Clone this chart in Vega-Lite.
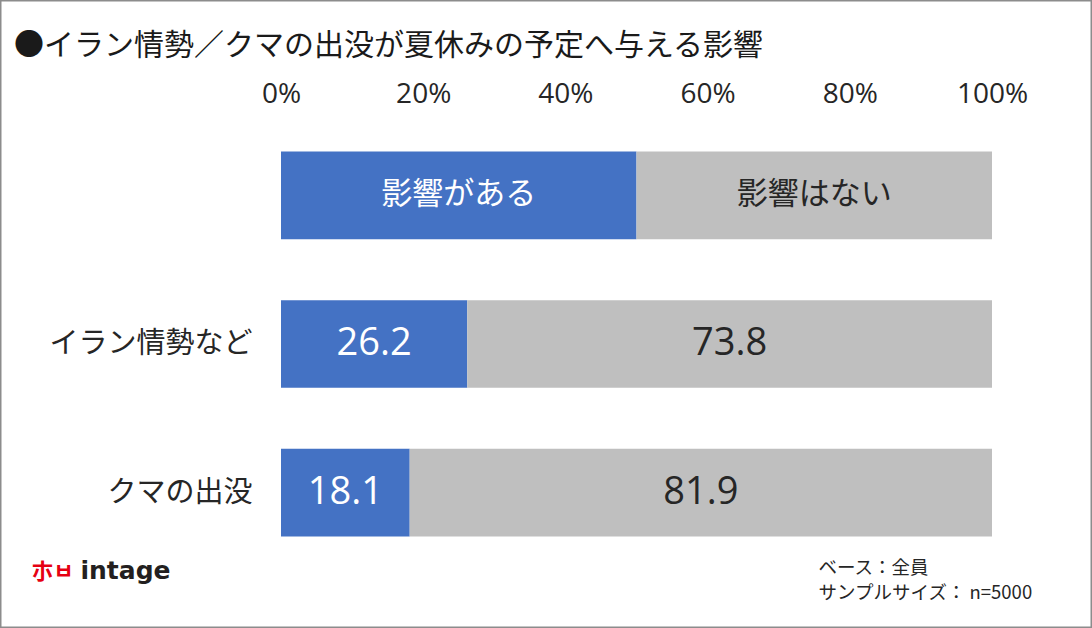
{
  "$schema": "https://vega.github.io/schema/vega-lite/v6.json",
  "width": 1092,
  "height": 628,
  "autosize": {"type": "none"},
  "padding": 0,
  "background": "white",
  "title": {
    "text": "●イラン情勢／クマの出没が夏休みの予定へ与える影響",
    "anchor": "start",
    "frame": "group",
    "offset": -61,
    "dx": 14,
    "font": "Noto Sans CJK JP",
    "fontSize": 30,
    "fontWeight": "normal",
    "color": "#1a1a1a"
  },
  "data": {
    "values": [
      {"item": "", "answer": "影響がある", "value": 50, "label": "影響がある"},
      {"item": "", "answer": "影響はない", "value": 50, "label": "影響はない"},
      {"item": "イラン情勢など", "answer": "影響がある", "value": 26.2, "label": "26.2"},
      {"item": "イラン情勢など", "answer": "影響はない", "value": 73.8, "label": "73.8"},
      {"item": "クマの出没", "answer": "影響がある", "value": 18.1, "label": "18.1"},
      {"item": "クマの出没", "answer": "影響はない", "value": 81.9, "label": "81.9"}
    ]
  },
  "transform": [
    {"stack": "value", "groupby": ["item"], "sort": [{"field": "answer", "order": "ascending"}], "as": ["x0", "x1"]},
    {"calculate": "(datum.x0 + datum.x1) / 2", "as": "mid"}
  ],
  "layer": [
    {
      "mark": {"type": "bar"},
      "encoding": {
        "y": {
          "field": "item",
          "type": "nominal",
          "sort": ["", "イラン情勢など", "クマの出没"],
          "scale": {"range": [121, 567], "paddingInner": 0.41, "paddingOuter": 0.205},
          "axis": {
            "orient": "left",
            "offset": -258,
            "domain": false,
            "ticks": false,
            "tickSize": 0,
            "grid": false,
            "labelPadding": 6,
            "labelLimit": 400,
            "labelFontSize": 29,
            "labelFont": "Noto Sans CJK JP",
            "labelColor": "#262626",
            "title": "intage",
            "titleAngle": 0,
            "titleX": -178,
            "titleY": 570,
            "titleAlign": "left",
            "titleBaseline": "middle",
            "titleFont": "DejaVu Sans",
            "titleFontSize": 25,
            "titleFontWeight": "bold",
            "titleColor": "#231f20"
          }
        },
        "x": {
          "field": "x0",
          "type": "quantitative",
          "scale": {"domain": [0, 100], "range": [281, 992], "nice": false, "zero": false},
          "axis": {
            "orient": "top",
            "offset": -108,
            "values": [0, 20, 40, 60, 80, 100],
            "labelExpr": "datum.value + '%'",
            "domain": false,
            "ticks": false,
            "tickSize": 0,
            "grid": false,
            "labelPadding": 0,
            "labelFontSize": 28,
            "labelFont": "Open Sans",
            "labelColor": "#262626",
            "labelFlush": false,
            "labelOverlap": false,
            "title": null
          }
        },
        "x2": {"field": "x1"},
        "color": {
          "field": "answer",
          "type": "nominal",
          "scale": {"domain": ["影響がある", "影響はない"], "range": ["#4472C4", "#BFBFBF"]},
          "legend": null
        }
      }
    },
    {
      "mark": {"type": "text", "font": "Open Sans, Noto Sans CJK JP", "align": "center", "baseline": "middle"},
      "encoding": {
        "y": {
          "field": "item",
          "type": "nominal",
          "sort": ["", "イラン情勢など", "クマの出没"],
          "axis": {
            "orient": "right",
            "labels": false,
            "domain": false,
            "ticks": false,
            "grid": false,
            "title": "朩ㅂ",
            "titleAngle": 0,
            "titleX": -1061,
            "titleY": 571,
            "titleAlign": "left",
            "titleBaseline": "middle",
            "titleColor": "#e60012",
            "titleFontSize": 22,
            "titleFont": "Noto Sans CJK KR",
            "titleFontWeight": "bold"
          }
        },
        "x": {
          "field": "mid",
          "type": "quantitative",
          "axis": {
            "orient": "bottom",
            "labels": false,
            "domain": false,
            "ticks": false,
            "grid": false,
            "title": ["ベース：全員", "サンプルサイズ： n=5000"],
            "titleX": 818,
            "titleY": -70,
            "titleAlign": "left",
            "titleAnchor": "start",
            "titleBaseline": "top",
            "titleLineHeight": 25,
            "titleFont": "Noto Sans CJK JP",
            "titleFontSize": 18.5,
            "titleFontWeight": "normal",
            "titleColor": "#262626"
          }
        },
        "text": {"field": "label"},
        "size": {"condition": {"test": "datum.item == ''", "value": 31}, "value": 38},
        "color": {"condition": {"test": "datum.answer == '影響がある'", "value": "white"}, "value": "#262626"}
      }
    }
  ],
  "resolve": {"axis": {"x": "independent", "y": "independent"}},
  "config": {"view": {"stroke": "#8c8c8c", "strokeWidth": 3}}
}
